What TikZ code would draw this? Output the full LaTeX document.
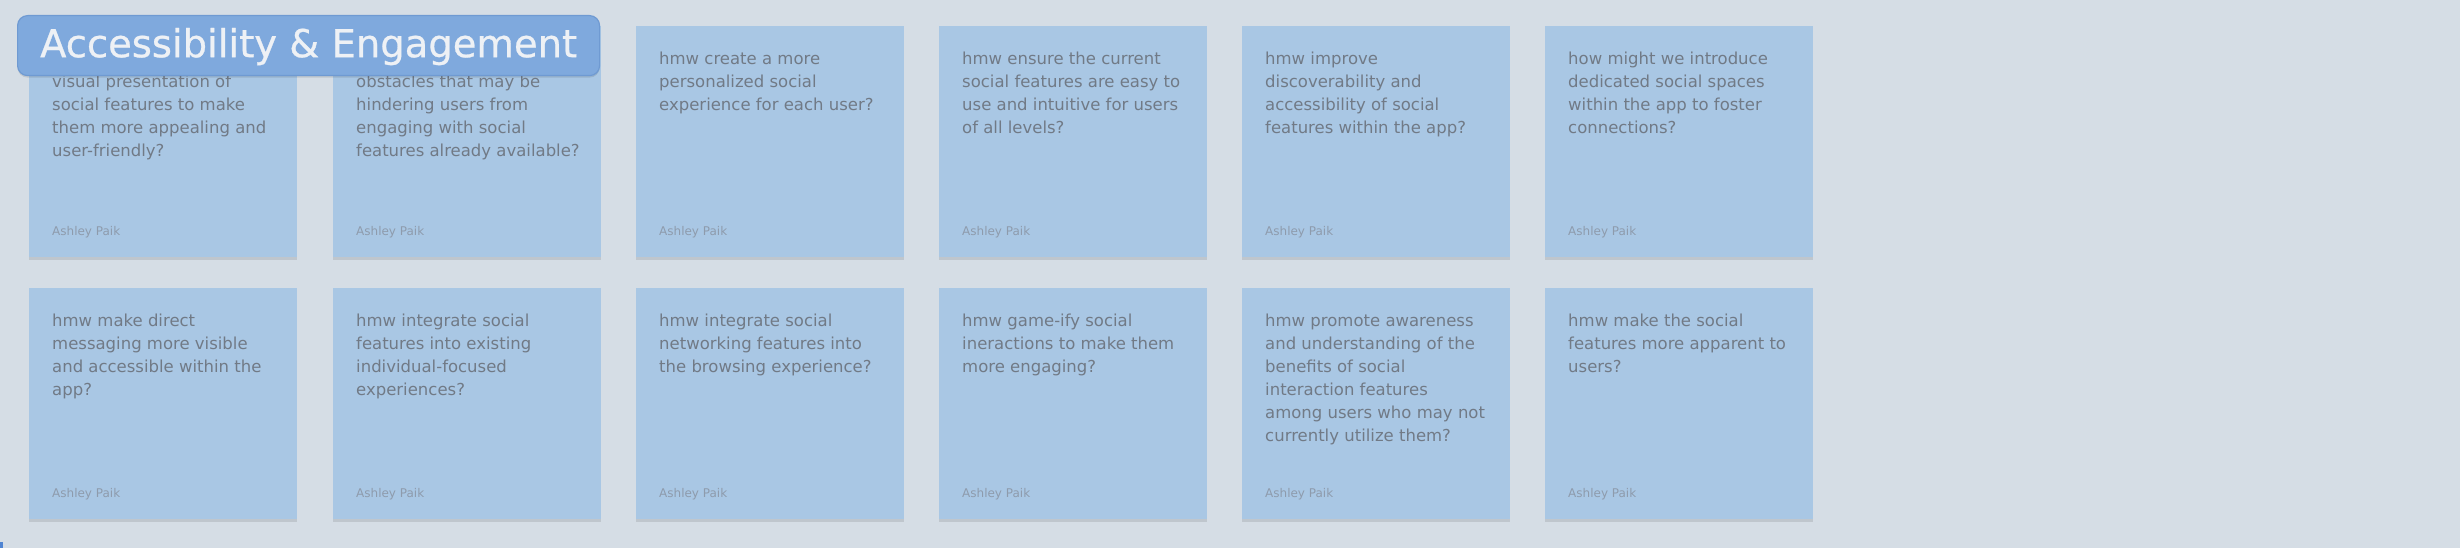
\documentclass[tikz,border=0pt]{standalone}
\usepackage{fontspec}
\setmainfont{DejaVu Sans}
\newfontfamily\headfont[FakeBold=0.7]{DejaVu Sans}
\usetikzlibrary{shadows}
\definecolor{bgcol}{HTML}{D5DDE5}
\definecolor{cardcol}{HTML}{A9C7E4}
\definecolor{titlefill}{HTML}{7FA9DD}
\definecolor{titleline}{HTML}{6F9AD2}
\definecolor{titletext}{HTML}{EEF1F5}
\definecolor{notetext}{HTML}{717A86}
\definecolor{authortext}{HTML}{8E9BAC}
\definecolor{cornermark}{HTML}{4F84D2}
\tikzset{
  notecard/.style={fill=cardcol, draw=none, minimum width=268, minimum height=231, inner sep=0, anchor=north west,
    drop shadow={shadow xshift=0pt, shadow yshift=-3pt, opacity=0.10, fill=black}},
  notetxt/.style={anchor=north west, inner sep=0, align=left, text=notetext, font=\fontsize{16.5}{23}\selectfont},
  authortxt/.style={anchor=west, inner sep=0, text=authortext, font=\fontsize{12}{14}\selectfont},
  titlebox/.style={fill=titlefill, draw=titleline, line width=1.2pt, rounded corners=10pt, minimum width=582, minimum height=60, inner sep=0, anchor=north west,
    drop shadow={shadow xshift=0pt, shadow yshift=-2pt, opacity=0.10, fill=black}},
  titletxt/.style={text=titletext, font=\headfont\fontsize{38.5}{40}\selectfont}
}
\newcommand{\stickynote}[5]{%
  \node[notecard] (c#1) at (#2,#3) {};
  \node[notetxt] (t#1) at ([shift={(23,#4)}]c#1.north west) {#5};
  \node[authortxt] (a#1) at ([shift={(23,206)}]c#1.north west) {Ashley Paik};
}
\begin{document}
\begin{tikzpicture}[x=1pt,y=-1pt]
\fill[bgcol] (0,0) rectangle (2460,548);
\useasboundingbox (0,0) rectangle (2460,548);
% row 1
\stickynote{11}{29}{26}{49}{visual presentation of\\social features to make\\them more appealing and\\user-friendly?}
\stickynote{12}{333}{26}{49}{obstacles that may be\\hindering users from\\engaging with social\\features already available?}
\stickynote{13}{636}{26}{26}{hmw create a more\\personalized social\\experience for each user?}
\stickynote{14}{939}{26}{26}{hmw ensure the current\\social features are easy to\\use and intuitive for users\\of all levels?}
\stickynote{15}{1242}{26}{26}{hmw improve\\discoverability and\\accessibility of social\\features within the app?}
\stickynote{16}{1545}{26}{26}{how might we introduce\\dedicated social spaces\\within the app to foster\\connections?}
% row 2
\stickynote{21}{29}{288}{26}{hmw make direct\\messaging more visible\\and accessible within the\\app?}
\stickynote{22}{333}{288}{26}{hmw integrate social\\features into existing\\individual-focused\\experiences?}
\stickynote{23}{636}{288}{26}{hmw integrate social\\networking features into\\the browsing experience?}
\stickynote{24}{939}{288}{26}{hmw game-ify social\\ineractions to make them\\more engaging?}
\stickynote{25}{1242}{288}{26}{hmw promote awareness\\and understanding of the\\benefits of social\\interaction features\\among users who may not\\currently utilize them?}
\stickynote{26}{1545}{288}{26}{hmw make the social\\features more apparent to\\users?}
% title
\node[titlebox] (title) at (17,15) {};
\node[titletxt] (titlelabel) at ([yshift=-1pt]title.center) {Accessibility \& Engagement};
% corner mark
\fill[cornermark] (0,542) rectangle (3,548);
\end{tikzpicture}
\end{document}
